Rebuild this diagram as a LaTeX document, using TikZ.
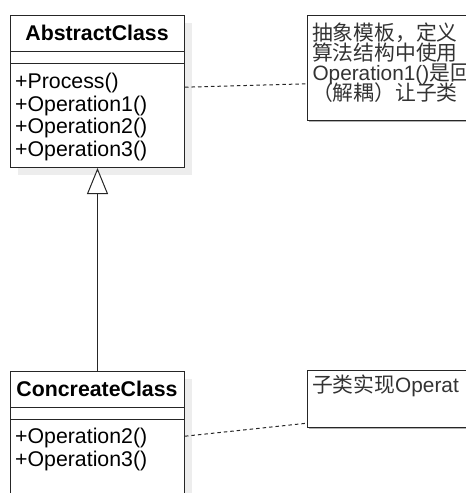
\documentclass[tikz,border=0pt]{standalone}
\usepackage{fontspec}
\setmainfont{Liberation Sans}
\newfontfamily\cjk{Noto Sans CJK SC}
\usetikzlibrary{arrows.meta}
\begin{document}
\begin{tikzpicture}[x=1pt,y=-1pt,
  line/.style={draw=black!85, line width=1pt},
  shadowbox/.style={fill=black!7, draw=none},
  box/.style={line, fill=white, rectangle, inner sep=0pt, anchor=north west, minimum width=174pt},
  ctitle/.style={font=\fontsize{21.3}{22}\selectfont\bfseries, anchor=base, inner sep=0pt},
  citem/.style={font=\fontsize{21.3}{22}\selectfont, anchor=base west, inner sep=0pt},
  ntext/.style={font=\fontsize{20.8}{20}\selectfont, text=black!80, anchor=base west, inner sep=0pt, text height=15pt, text depth=2pt},
  dashline/.style={line, dash pattern=on 3.5pt off 3pt},
]
\useasboundingbox (0,0) rectangle (466,493);
\clip (0,0) rectangle (466,493);

% shadows
\fill[shadowbox] (18,23) rectangle (192,175);
\fill[shadowbox] (18,379) rectangle (192,620);
\fill[black!30] (308.5,16.5) rectangle (620,121.8);
\fill[black!30] (308.5,371.5) rectangle (620,428.8);

% AbstractClass
\node[box, minimum height=36pt] (absT) at (10,15) {};
\node[box, minimum height=12pt] (absA) at (10,51) {};
\node[box, minimum height=104pt] (absM) at (10,63) {};
\node[ctitle] (absName) at (97,40.5) {AbstractClass};
\node[citem] (absM1) at (15,88.5) {+Process()};
\node[citem] (absM2) at (15,111) {+Operation1()};
\node[citem] (absM3) at (15,133.5) {+Operation2()};
\node[citem] (absM4) at (15,156) {+Operation3()};

% ConcreateClass
\node[box, minimum height=36pt] (ccT) at (10,371) {};
\node[box, minimum height=12pt] (ccA) at (10,407) {};
\node[box, minimum height=200pt] (ccM) at (10,419) {};
\node[ctitle] (ccName) at (97,396.5) {ConcreateClass};
\node[citem] (ccM1) at (15,443.5) {+Operation2()};
\node[citem] (ccM2) at (15,466) {+Operation3()};

% notes
\node[box, minimum width=313pt, minimum height=105pt] (n1) at (307,15) {};
\node[box, minimum width=313pt, minimum height=57pt] (n2) at (307,370) {};
\node[ntext] (n1l1) at (311.8,40.5) {\cjk 抽象模板，定义};
\node[ntext] (n1l2) at (311.8,60.5) {\cjk 算法结构中使用};
\node[ntext] (n1l3) at (312.3,80.5) {Operation1(){\cjk 是回}};
\node[ntext] (n1l4) at (311.8,100.5) {\cjk （解耦）让子类};
\node[ntext] (n2l1) at (311.8,392) {{\cjk 子类实现}Operat};

% connectors
\draw[line, -{Triangle[open, length=26pt, width=21pt, fill=white]}] (ccT.north) -- (absM.south);
\draw[dashline] ([yshift=28.3pt]absM.east) -- ([yshift=-15.8pt]n1.west);
\draw[dashline] ([yshift=83.3pt]ccM.east) -- ([yshift=-24.2pt]n2.west);
\end{tikzpicture}
\end{document}
